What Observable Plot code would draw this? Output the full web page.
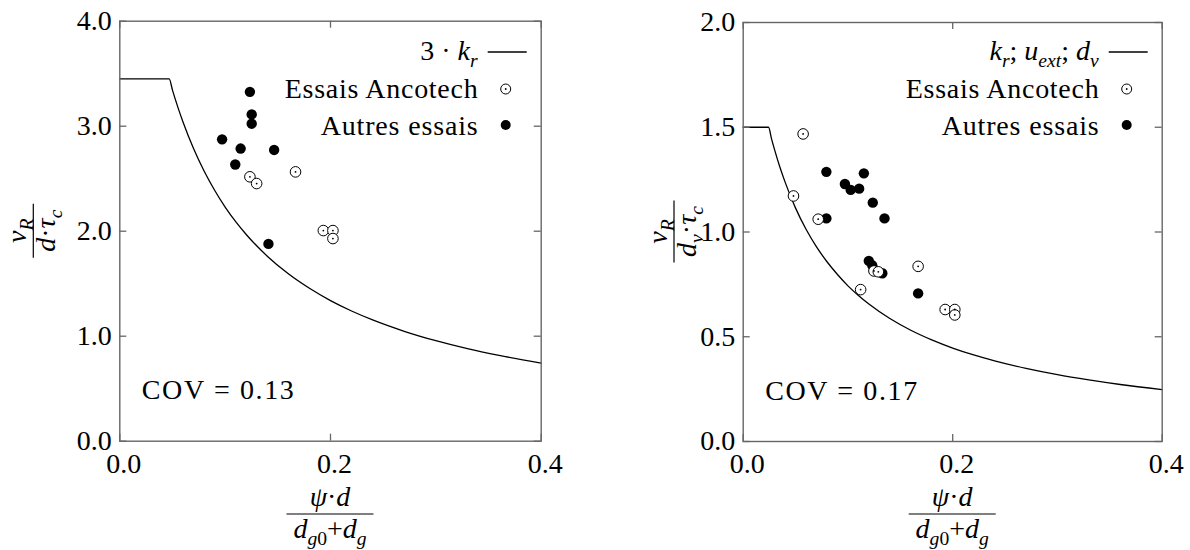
<!DOCTYPE html>
<html>
<head>
<meta charset="utf-8">
<script src="https://cdn.jsdelivr.net/npm/d3@7"></script>
<script src="https://cdn.jsdelivr.net/npm/@observablehq/plot@0.6"></script>
<style>
  html, body { margin: 0; padding: 0; background: #fff; }
  #wrap { position: relative; width: 1190px; height: 550px; overflow: hidden; }
  #wrap svg { position: absolute; top: 0; }
</style>
</head>
<body>
<div id="wrap"></div>
<script>
// ---------- data ----------
const xTicks = [0, 0.2, 0.4];
const yTicksLeft = [0, 1, 2, 3, 4];
const yTicksRight = [0, 0.5, 1, 1.5, 2];

// left panel: 3·k_r curve
const curveLeftX = [0, 0.0469, 0.05, 0.055, 0.06, 0.07, 0.08, 0.09, 0.10, 0.11, 0.12, 0.14, 0.16, 0.18, 0.20, 0.22, 0.24, 0.27, 0.30, 0.33, 0.36, 0.40];
const curveLeftY = [3.45, 3.45, 3.343, 3.184, 3.040, 2.787, 2.573, 2.390, 2.230, 2.091, 1.969, 1.762, 1.594, 1.456, 1.339, 1.240, 1.155, 1.047, 0.957, 0.881, 0.817, 0.744];

// left panel points
const leftAncotechX = [0.1235, 0.1299, 0.1668, 0.1932, 0.2023, 0.2023];
const leftAncotechY = [2.518, 2.454, 2.565, 2.006, 2.006, 1.930];
const leftAutresX = [0.1235, 0.1252, 0.1252, 0.0971, 0.1147, 0.1465, 0.1096, 0.1411];
const leftAutresY = [3.327, 3.112, 3.024, 2.875, 2.787, 2.774, 2.635, 1.879];

// right panel: k_r; u_ext; d_v curve
const curveRightX = [0, 0.0242, 0.027, 0.03, 0.035, 0.04, 0.05, 0.06, 0.07, 0.08, 0.09, 0.10, 0.11, 0.12, 0.14, 0.16, 0.18, 0.20, 0.22, 0.24, 0.27, 0.30, 0.33, 0.36, 0.40];
const curveRightY = [1.5, 1.5, 1.446, 1.392, 1.310, 1.238, 1.114, 1.013, 0.929, 0.858, 0.797, 0.743, 0.697, 0.656, 0.587, 0.531, 0.485, 0.446, 0.413, 0.385, 0.349, 0.319, 0.294, 0.272, 0.248];

// right panel points
const rightAncotechX = [0.0572, 0.0480, 0.0716, 0.1670, 0.1248, 0.1290, 0.1121, 0.1928, 0.2020, 0.2020];
const rightAncotechY = [1.468, 1.172, 1.061, 0.836, 0.814, 0.810, 0.725, 0.630, 0.630, 0.604];
const rightAutresX = [0.0794, 0.0971, 0.1026, 0.1107, 0.1152, 0.1237, 0.1349, 0.0794, 0.1199, 0.1232, 0.1328, 0.1670];
const rightAutresY = [1.287, 1.229, 1.201, 1.207, 1.280, 1.140, 1.065, 1.065, 0.862, 0.841, 0.803, 0.707];

const covLabels = ["COV = 0.13", "COV = 0.17"];
const legendLabels = ["Essais Ancotech", "Autres essais"];

// ---------- helpers ----------
const FONT = "'Liberation Serif', serif";
const FS = 28;
const toRows = (xs, ys) => xs.map((x, i) => ({x, y: ys[i]}));

function rich(g, x, y, segs, {size = FS, anchor = "start"} = {}) {
  const t = g.append("text")
    .attr("x", x).attr("y", y)
    .style("font-family", FONT)
    .attr("font-size", size)
    .attr("text-anchor", anchor)
    .attr("fill", "black");
  let cur = 0;
  for (const s of segs) {
    const shift = s.sub ? size * 0.25 : 0;
    const ts = t.append("tspan").text(s.t);
    if (s.it) ts.attr("font-style", "italic");
    ts.attr("font-size", s.sub ? size * 0.7 : size);
    const dy = shift - cur;
    if (dy) ts.attr("dy", dy);
    cur = shift;
  }
  return t;
}

function fraction(svg, cx, cy, rot, num, den, barLen, numBase, denBase) {
  const g = d3.select(svg).append("g")
    .attr("transform", `translate(${cx},${cy}) rotate(${rot})`);
  rich(g, 0, numBase, num, {anchor: "middle"});
  g.append("line").attr("x1", -barLen / 2).attr("x2", barLen / 2)
    .attr("y1", 0).attr("y2", 0).attr("stroke", "black").attr("stroke-width", 1.2);
  rich(g, 0, denBase, den, {anchor: "middle"});
}

function legend(svg, R, curveSegs) {
  const g = d3.select(svg).append("g");
  g.append("line").attr("x1", R - 53).attr("x2", R - 14).attr("y1", 52).attr("y2", 52)
    .attr("stroke", "black").attr("stroke-width", 1.3);
  rich(g, R - 63, 60, curveSegs, {anchor: "end"});
  g.append("text").attr("x", R - 63).attr("y", 98).attr("text-anchor", "end")
    .style("font-family", FONT).attr("font-size", FS).attr("textLength", 193)
    .attr("lengthAdjust", "spacing").text(legendLabels[0]);
  g.append("circle").attr("cx", R - 35).attr("cy", 89).attr("r", 5)
    .attr("fill", "white").attr("stroke", "black").attr("stroke-width", 1);
  g.append("circle").attr("cx", R - 35).attr("cy", 89).attr("r", 0.9).attr("fill", "black");
  g.append("text").attr("x", R - 63).attr("y", 135).attr("text-anchor", "end")
    .style("font-family", FONT).attr("font-size", FS).attr("textLength", 157)
    .attr("lengthAdjust", "spacing").text(legendLabels[1]);
  g.append("circle").attr("cx", R - 35).attr("cy", 125).attr("r", 5).attr("fill", "black");
}

function makeChart({yTicks, yDomain, curveX, curveY, ancX, ancY, autX, autY, m, cov}) {
  const width = 595, height = 550;
  const fw = width - m.left - m.right;
  const fh = height - m.top - m.bottom;
  const T = 7;
  const tickStyle = {stroke: "#666", strokeWidth: 1.3};
  const svg = Plot.plot({
    width, height,
    marginLeft: m.left, marginRight: m.right, marginTop: m.top, marginBottom: m.bottom,
    style: {fontFamily: FONT, fontSize: "28px", background: "white", color: "black"},
    x: {domain: [0, 0.4], label: null},
    y: {domain: yDomain, label: null},
    marks: [
      Plot.line(toRows(curveX, curveY), {x: "x", y: "y", stroke: "black", strokeWidth: 1.3, curve: "monotone-x"}),
      Plot.dot(toRows(autX, autY), {x: "x", y: "y", r: 5.2, fill: "black", stroke: "none"}),
      Plot.dot(toRows(ancX, ancY), {x: "x", y: "y", r: 5.3, fill: "white", stroke: "black", strokeWidth: 1}),
      Plot.dot(toRows(ancX, ancY), {x: "x", y: "y", r: 0.9, fill: "black", stroke: "none"}),
      Plot.tickX(xTicks, {x: d => d, insetTop: fh - T, ...tickStyle}),
      Plot.tickX(xTicks, {x: d => d, insetBottom: fh - T, ...tickStyle}),
      Plot.tickY(yTicks, {y: d => d, insetRight: fw - T, ...tickStyle}),
      Plot.tickY(yTicks, {y: d => d, insetLeft: fw - T, ...tickStyle}),
      Plot.frame({stroke: "#666", strokeWidth: 1.4}),
      Plot.axisX({ticks: xTicks, tickSize: 0, tickPadding: 12, dx: 4, tickFormat: d => d.toFixed(1), label: null}),
      Plot.axisY({ticks: yTicks, tickSize: 0, tickPadding: 8, tickFormat: d => d.toFixed(1), label: null}),
      Plot.text([cov], {text: d => d, frameAnchor: "bottom-left", dx: 22, dy: -42, textAnchor: "start", lineAnchor: "bottom"})
    ]
  });
  d3.select(svg).selectAll("g[aria-label='text'] text").attr("textLength", 152).attr("lengthAdjust", "spacing");
  return svg;
}

// ---------- charts ----------
const wrap = document.getElementById("wrap");

const mL = {left: 119.3, right: 54.3, top: 20.7, bottom: 109.3};
const left = makeChart({
  yTicks: yTicksLeft, yDomain: [0, 4],
  curveX: curveLeftX, curveY: curveLeftY,
  ancX: leftAncotechX, ancY: leftAncotechY,
  autX: leftAutresX, autY: leftAutresY,
  m: mL, cov: covLabels[0]
});
left.style.left = "0px";
wrap.appendChild(left);

const mR = {left: 147.7, right: 28.3, top: 22, bottom: 109};
const right = makeChart({
  yTicks: yTicksRight, yDomain: [0, 2],
  curveX: curveRightX, curveY: curveRightY,
  ancX: rightAncotechX, ancY: rightAncotechY,
  autX: rightAutresX, autY: rightAutresY,
  m: mR, cov: covLabels[1]
});
right.style.left = "595px";
wrap.appendChild(right);

// legends
legend(left, 595 - mL.right, [{t: "3 · "}, {t: "k", it: 1}, {t: "r", it: 1, sub: 1}]);
legend(right, 595 - mR.right, [
  {t: "k", it: 1}, {t: "r", it: 1, sub: 1}, {t: "; "},
  {t: "u", it: 1}, {t: "ext", it: 1, sub: 1}, {t: "; "},
  {t: "d", it: 1}, {t: "v", it: 1, sub: 1}
]);

// axis labels (fractions)
const xNum = [{t: "ψ", it: 1}, {t: "·"}, {t: "d", it: 1}];
const xDen = [{t: "d", it: 1}, {t: "g", it: 1, sub: 1}, {t: "0", sub: 1}, {t: "+"}, {t: "d", it: 1}, {t: "g", it: 1, sub: 1}];
fraction(left, (mL.left + 595 - mL.right) / 2, 514, 0, xNum, xDen, 87, -8, 24);
fraction(right, (mR.left + 595 - mR.right) / 2, 514, 0, xNum, xDen, 87, -8, 24);

fraction(left, 33.3, 230.7, -90,
  [{t: "ν", it: 1}, {t: "R", it: 1, sub: 1}],
  [{t: "d", it: 1}, {t: "·"}, {t: "τ", it: 1}, {t: "c", it: 1, sub: 1}],
  54, -7, 22);
fraction(right, 79, 231.5, -90,
  [{t: "ν", it: 1}, {t: "R", it: 1, sub: 1}],
  [{t: "d", it: 1}, {t: "v", it: 1, sub: 1}, {t: "·"}, {t: "τ", it: 1}, {t: "c", it: 1, sub: 1}],
  62, -7, 22);
</script>
</body>
</html>
